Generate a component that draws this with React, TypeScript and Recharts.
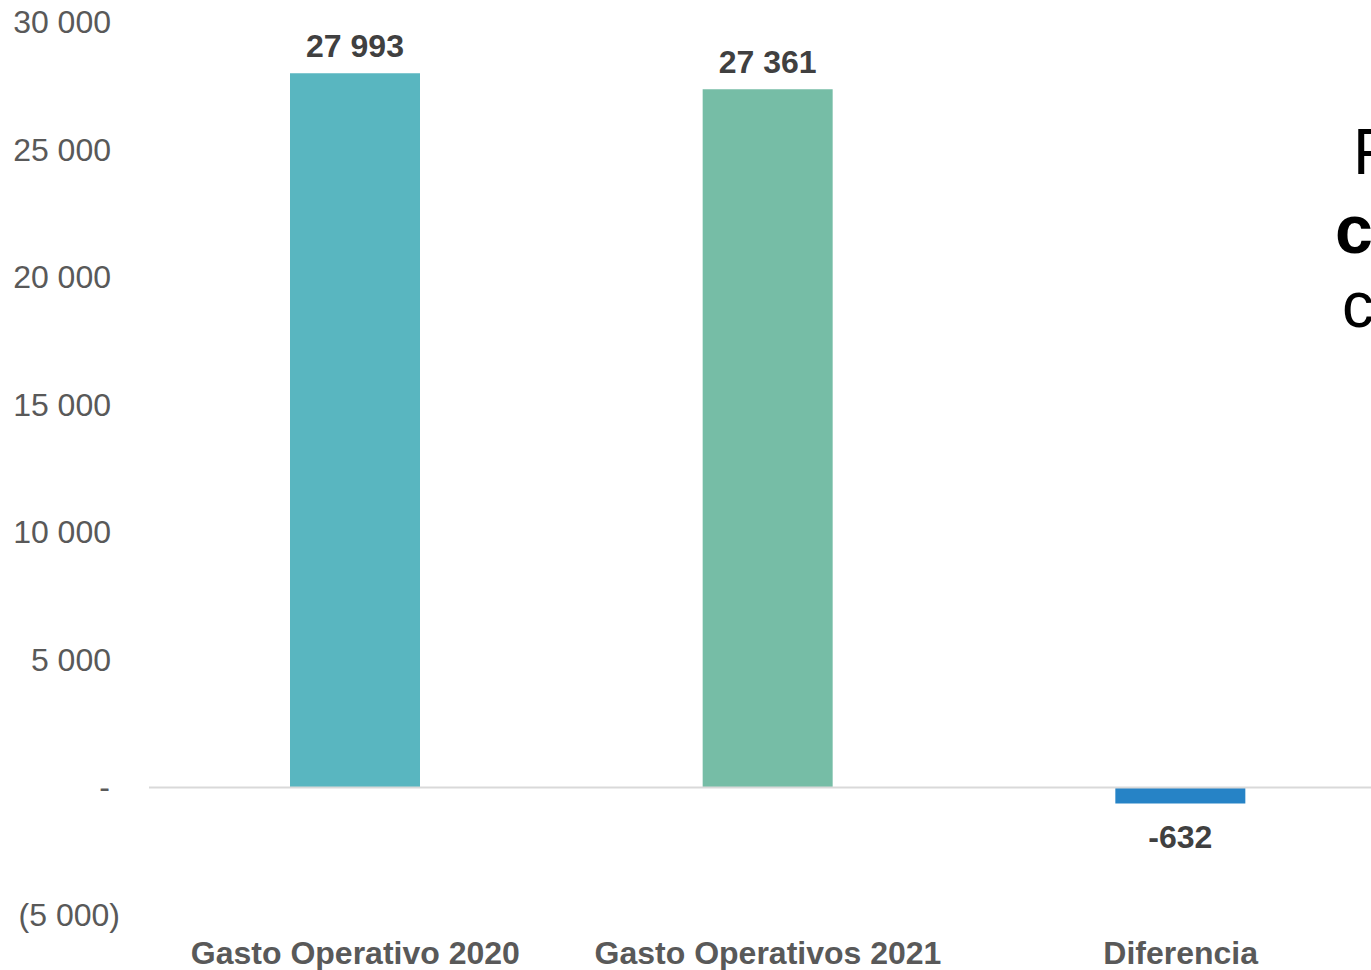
import { BarChart, Bar, XAxis, YAxis, Cell, LabelList, ReferenceLine } from "recharts";

const categories = ["Gasto Operativo 2020", "Gasto Operativos 2021", "Diferencia"];
const values = [27993, 27361, -632];
const barColors = ["#59B6C0", "#76BDA6", "#2683C6"];
const yTicks = [-5000, 0, 5000, 10000, 15000, 20000, 25000, 30000];

const data = categories.map((name, i) => ({ name, value: values[i] }));

const FONT = "Liberation Sans, Arial, sans-serif";

const fmt = (v: number) => {
  if (v === 0) return "-";
  const s = Math.abs(v).toString().replace(/\B(?=(\d{3})+(?!\d))/g, " ");
  return v < 0 ? `(${s})` : s;
};

function YTick({ y, payload }: { y?: number; payload?: { value: number } }) {
  const v = payload?.value ?? 0;
  const x = v < 0 ? 120 : v === 0 ? 110 : 111;
  return (
    <text x={x} y={y} dy={11} textAnchor="end" fontSize={32} fill="#595959" fontFamily={FONT}>
      {fmt(v)}
    </text>
  );
}

function XTick({ x, y, payload }: { x?: number; y?: number; payload?: { value: string } }) {
  return (
    <text x={x} y={(y ?? 0) + 41} textAnchor="middle" fontSize={32} fontWeight="bold" fill="#595959" fontFamily={FONT}>
      {payload?.value}
    </text>
  );
}

function ValueLabel(props: any) {
  const { x, y, width, height, value } = props;
  const cx = x + width / 2;
  const top = Math.min(y, y + height);
  const bottom = Math.max(y, y + height);
  const ty = value < 0 ? bottom + 44 : top - 16;
  return (
    <text x={cx} y={ty} textAnchor="middle" fontSize={32} fontWeight="bold" fill="#404040" fontFamily={FONT}>
      {fmt(value).replace(/^\((.*)\)$/, "-$1")}
    </text>
  );
}

export default function App() {
  return (
    <div style={{ position: "absolute", left: 0, top: 0, width: 1371, height: 970, overflow: "hidden", background: "#fff" }}>
      <BarChart width={1400} height={970} data={data} margin={{ top: 22, right: 13, left: 1, bottom: 0 }}>
        <XAxis dataKey="name" axisLine={false} tickLine={false} height={55} tick={<XTick />} interval={0} />
        <YAxis
          domain={[-5000, 30000]}
          ticks={yTicks}
          width={148}
          axisLine={false}
          tickLine={false}
          tick={<YTick />}
          interval={0}
        />
        <ReferenceLine y={0} stroke="#D9D9D9" strokeWidth={2} />
        <Bar dataKey="value" barSize={130} isAnimationActive={false}>
          {data.map((d, i) => (
            <Cell key={d.name} fill={barColors[i]} />
          ))}
          <LabelList dataKey="value" content={<ValueLabel />} />
        </Bar>
      </BarChart>
      <svg style={{ position: "absolute", left: 0, top: 0 }} width={1371} height={970} pointerEvents="none">
        <g fontFamily={FONT} fill="#000">
          <text x={1353} y={174} fontSize={64}>Fuente</text>
          <text x={1335} y={253} fontSize={68} fontWeight="bold">cifras</text>
          <text x={1342} y={327} fontSize={64}>comparativo</text>
        </g>
      </svg>
    </div>
  );
}
